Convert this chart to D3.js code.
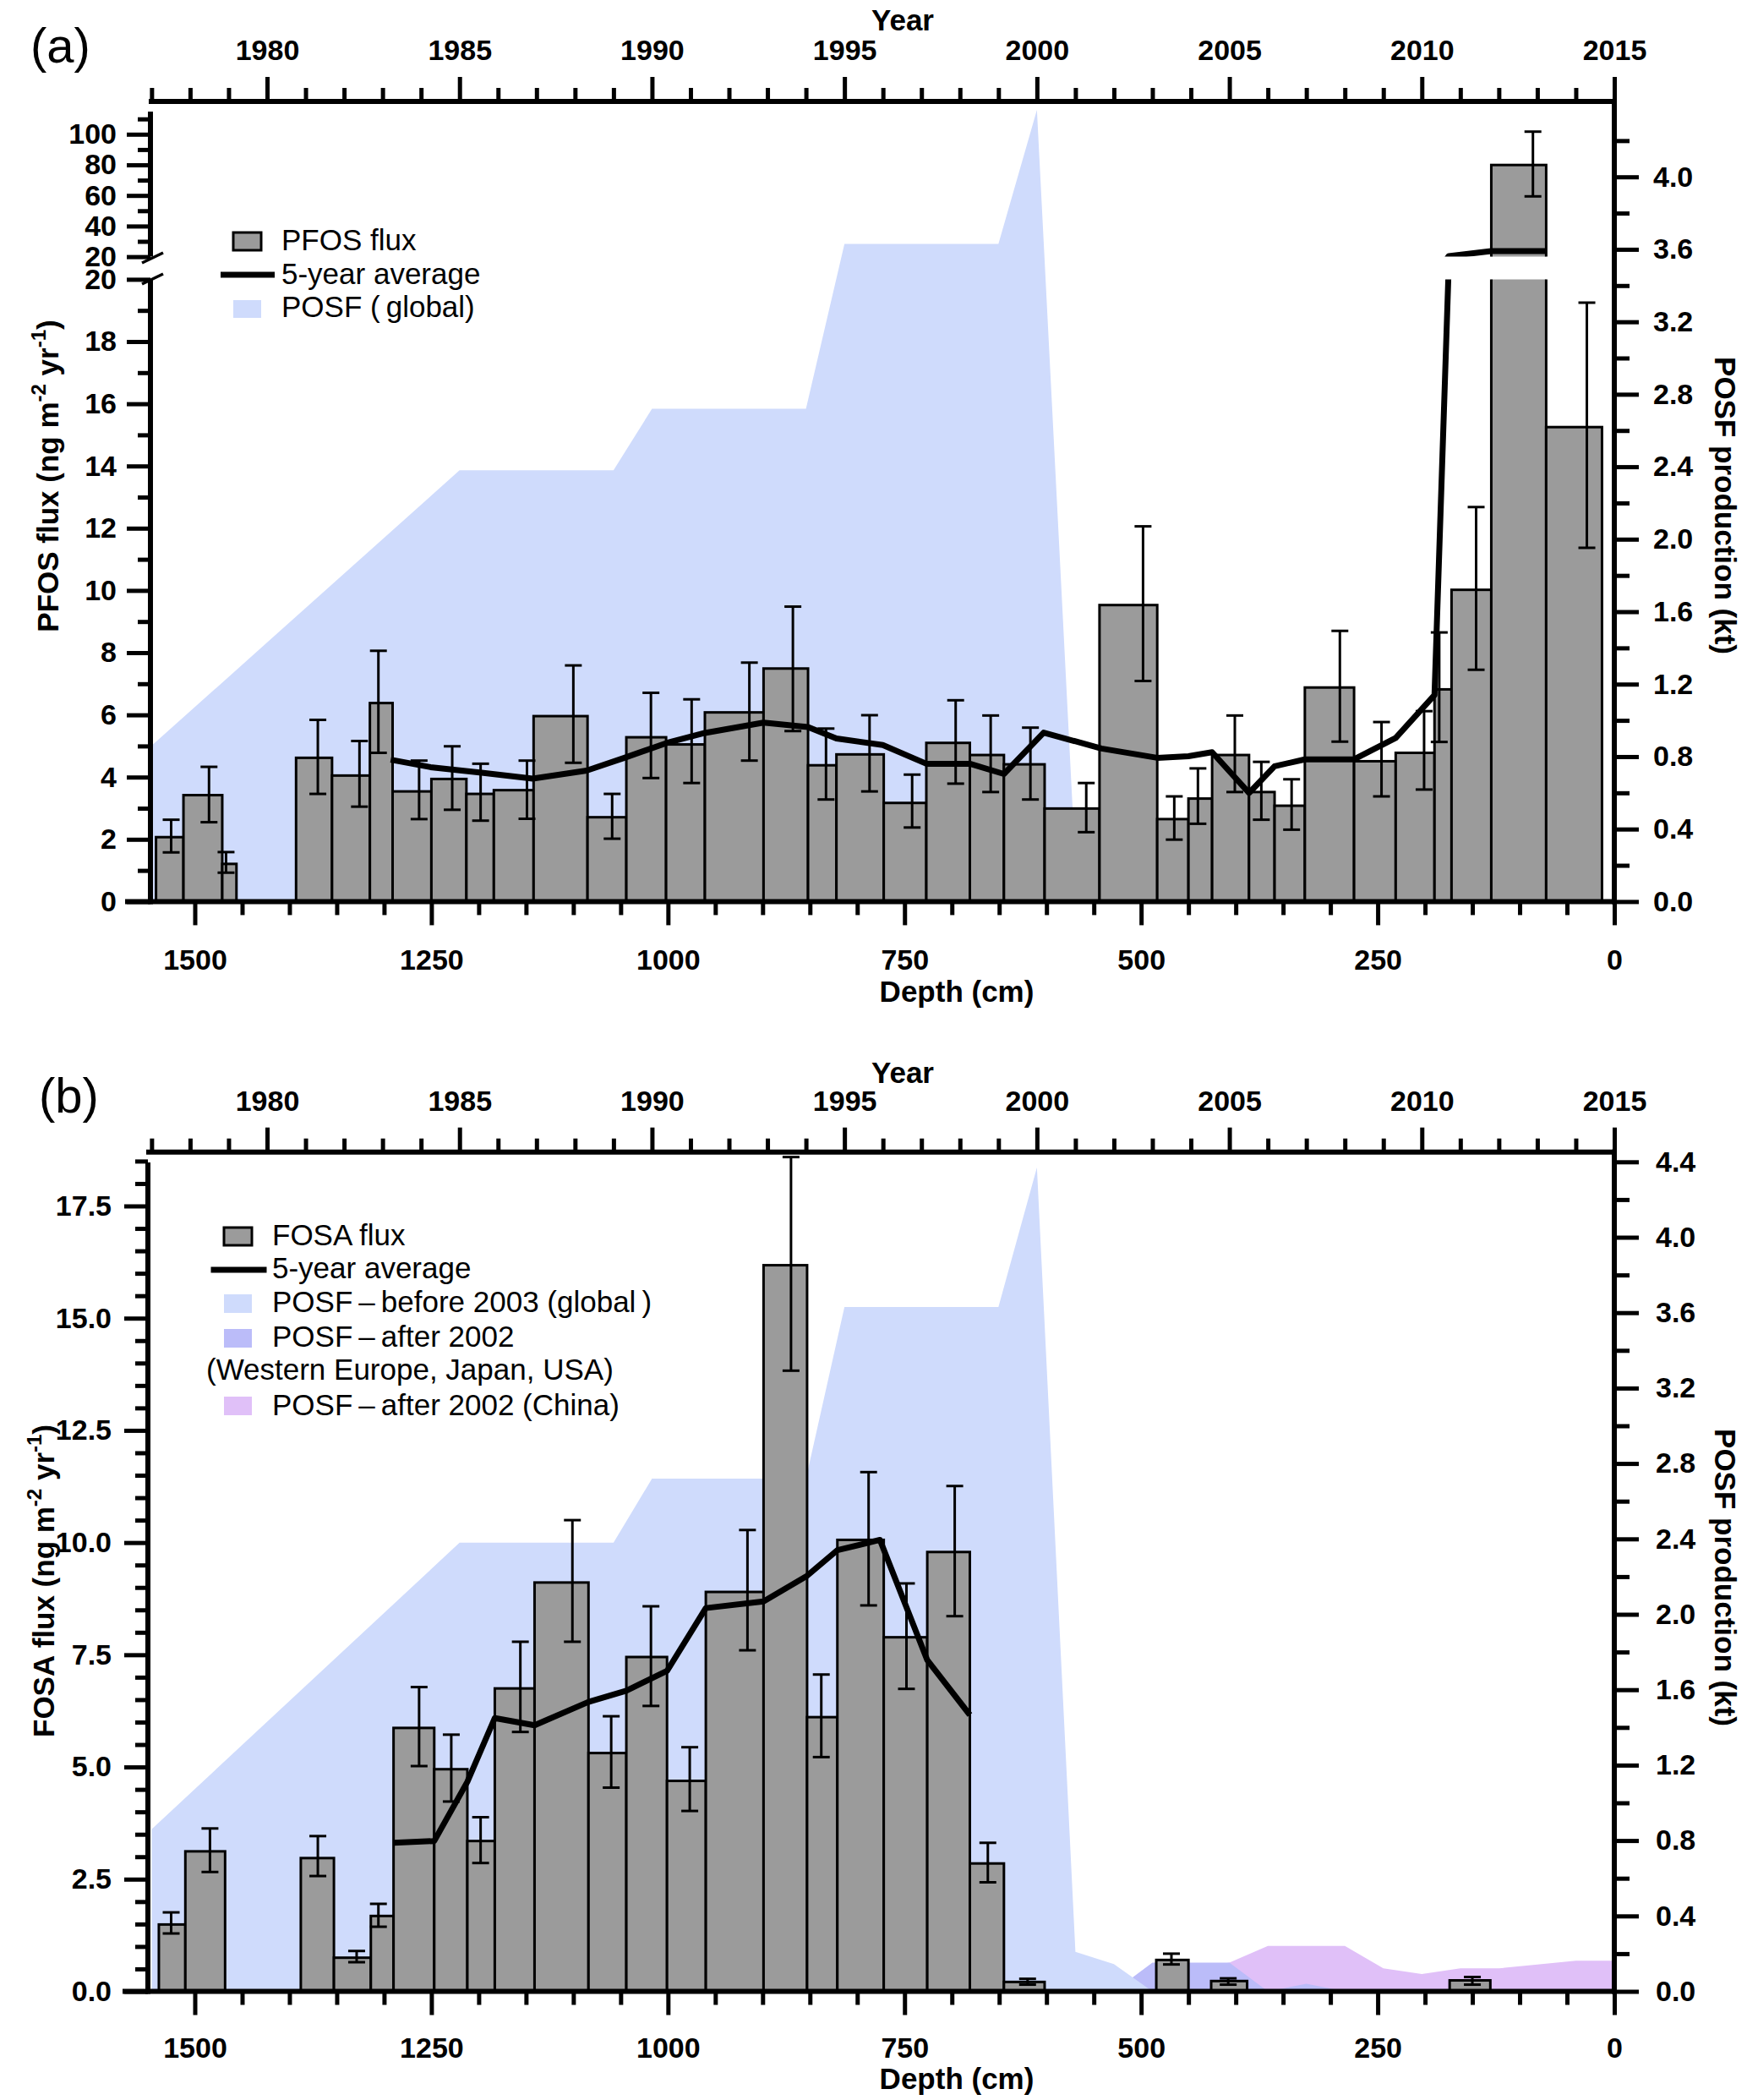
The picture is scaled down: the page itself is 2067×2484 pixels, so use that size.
<!DOCTYPE html>
<html>
<head>
<meta charset="utf-8">
<script src="https://cdn.jsdelivr.net/npm/d3@7"></script>
<style>
  body { margin: 0; background: #fff; }
  text { font-family: 'Liberation Sans', Arial, Helvetica, sans-serif; }
</style>
</head>
<body>
<div id="chart"></div>
<script>
/* global d3 */

// ---- panel (a): PFOS ----
const pfosFrom = [1541, 1512, 1471, 1393, 1355, 1315, 1291, 1250, 1213, 1184, 1142, 1085, 1044, 1002, 961, 899, 852, 822, 772, 727, 681, 645, 602, 544, 483, 450, 425, 386, 359, 327, 275, 231, 190, 172, 130, 72]
const pfosTo = [1512, 1471, 1456, 1355, 1315, 1291, 1250, 1213, 1184, 1142, 1085, 1044, 1002, 961, 899, 852, 822, 772, 727, 681, 645, 602, 544, 483, 450, 425, 386, 359, 327, 275, 231, 190, 172, 130, 72, 13]
const pfosFlux = [2.07, 3.42, 1.21, 4.62, 4.05, 6.38, 3.54, 3.94, 3.46, 3.58, 5.96, 2.71, 5.28, 5.05, 6.08, 7.49, 4.38, 4.73, 3.17, 5.10, 4.71, 4.41, 2.99, 9.53, 2.65, 3.31, 4.71, 3.52, 3.08, 6.88, 4.51, 4.78, 6.82, 10.02, 79.9, 15.25]
const pfosLow = [1.58, 2.55, 0.93, 3.46, 3.05, 4.78, 2.65, 2.95, 2.60, 2.66, 4.46, 2.02, 3.97, 3.81, 4.53, 5.48, 3.28, 3.54, 2.38, 3.79, 3.52, 3.28, 2.23, 7.09, 1.99, 2.50, 3.52, 2.63, 2.31, 5.14, 3.38, 3.60, 5.13, 7.45, 59.4, 11.37]
const pfosHigh = [2.63, 4.33, 1.59, 5.84, 5.16, 8.06, 4.53, 4.99, 4.43, 4.53, 7.59, 3.46, 6.71, 6.50, 7.68, 9.48, 5.56, 5.99, 4.08, 6.47, 5.98, 5.59, 3.81, 12.06, 3.38, 4.28, 5.98, 4.49, 3.93, 8.70, 5.77, 6.12, 8.65, 12.68, 101.7, 19.25]
const pfosErrDepth = [1525, 1485, 1467, 1370, 1326, 1306, 1263, 1228, 1198, 1149, 1100, 1059, 1018, 975, 914, 868, 833, 787, 742, 696, 659, 617, 558, 498, 465, 440, 401, 373, 341, 290, 246, 201, 185, 146, 86, 29]
const pfosAvgDepth = [1293, 1251, 1197, 1143, 1086, 1046, 1001, 961, 899, 852, 822, 773, 727, 681, 645, 603, 542, 483, 450, 425, 386, 359, 327, 275, 231, 190, 175, 130, 72]
const pfosAvg = [4.56, 4.32, 4.14, 3.95, 4.21, 4.62, 5.10, 5.42, 5.75, 5.61, 5.24, 5.03, 4.43, 4.43, 4.10, 5.43, 4.92, 4.62, 4.67, 4.80, 3.49, 4.35, 4.57, 4.57, 5.26, 6.64, 20.4, 23.6, 23.7]

// ---- panel (b): FOSA ----
const fosaFrom = [1538, 1510, 1388, 1353, 1314, 1290, 1247, 1212, 1183, 1141, 1084, 1044, 1001, 960, 899, 853, 821, 772, 726, 681, 645, 484, 426, 174]
const fosaTo = [1510, 1468, 1353, 1314, 1290, 1247, 1212, 1183, 1141, 1084, 1044, 1001, 960, 899, 853, 821, 772, 726, 681, 645, 602, 450, 388, 131]
const fosaFlux = [1.49, 3.12, 2.97, 0.75, 1.68, 5.87, 4.95, 3.35, 6.75, 9.11, 5.31, 7.45, 4.69, 8.90, 16.18, 6.11, 10.06, 7.89, 9.79, 2.85, 0.21, 0.70, 0.23, 0.245]
const fosaLow = [1.29, 2.66, 2.57, 0.65, 1.44, 5.02, 4.23, 2.86, 5.78, 7.79, 4.54, 6.36, 4.02, 7.60, 13.83, 5.22, 8.60, 6.74, 8.36, 2.43, 0.15, 0.60, 0.15, 0.15]
const fosaHigh = [1.76, 3.63, 3.46, 0.90, 1.95, 6.78, 5.72, 3.88, 7.79, 10.5, 6.13, 8.58, 5.44, 10.28, 18.59, 7.06, 11.57, 9.09, 11.26, 3.31, 0.28, 0.84, 0.29, 0.32]
const fosaErrDepth = [1525, 1484, 1370, 1329, 1306, 1263, 1229, 1198, 1156, 1101, 1060, 1018, 977, 916, 870, 838, 788, 748, 697, 662, 620, 468, 408, 150]
const fosaAvgDepth = [1290, 1247, 1212, 1183, 1141, 1084, 1044, 1001, 960, 899, 853, 821, 776, 726, 681]
const fosaAvg = [3.31, 3.35, 4.67, 6.09, 5.93, 6.45, 6.70, 7.14, 8.54, 8.69, 9.26, 9.83, 10.06, 7.38, 6.16]

// ---- POSF production (kt) by year ----
const globalYears = [1977, 1985, 1989, 1990, 1994, 1995, 1999, 2000, 2001, 2002, 2003]
const globalPosf = [0.86, 2.38, 2.38, 2.72, 2.72, 3.63, 3.63, 4.37, 0.21, 0.145, 0]
const westYears = [2002, 2003, 2004, 2005, 2006, 2007, 2008]
const westPosf = [0, 0.152, 0.152, 0.152, 0, 0.04, 0]
const chinaYears = [2003, 2004, 2005, 2006, 2007, 2008, 2009, 2010, 2011, 2012, 2013, 2014, 2015]
const chinaPosf = [0.08, 0.12, 0.152, 0.241, 0.241, 0.241, 0.122, 0.092, 0.122, 0.122, 0.142, 0.162, 0.162]

// ---- ticks ----
const depthMajor = [0, 250, 500, 750, 1000, 1250, 1500]
const depthMinor = d3.range(50, 1500, 50).filter(d => d % 250)
const yearMajor = [1980, 1985, 1990, 1995, 2000, 2005, 2010, 2015]
const yearMinor = d3.range(1977, 2015).filter(d => d % 5)
const pfosLowMajor = [0, 2, 4, 6, 8, 10, 12, 14, 16, 18, 20]
const pfosLowMinor = [1, 3, 5, 7, 9, 11, 13, 15, 17, 19]
const pfosUpMajor = [20, 40, 60, 80, 100]
const pfosUpMinor = [30, 50, 70, 90, 110]
const fosaMajor = [0, 2.5, 5, 7.5, 10, 12.5, 15, 17.5]
const fosaMinor = [0.5, 1, 1.5, 2, 3, 3.5, 4, 4.5, 5.5, 6, 6.5, 7, 8, 8.5, 9, 9.5, 10.5, 11, 11.5, 12, 13, 13.5, 14, 14.5, 15.5, 16, 16.5, 17, 18, 18.5]
const posfMajorA = [0, 0.4, 0.8, 1.2, 1.6, 2.0, 2.4, 2.8, 3.2, 3.6, 4.0]
const posfMinorA = [0.2, 0.6, 1.0, 1.4, 1.8, 2.2, 2.6, 3.0, 3.4, 3.8, 4.2]
const posfMajorB = [0, 0.4, 0.8, 1.2, 1.6, 2.0, 2.4, 2.8, 3.2, 3.6, 4.0, 4.4]
const posfMinorB = [0.2, 0.6, 1.0, 1.4, 1.8, 2.2, 2.6, 3.0, 3.4, 3.8, 4.2]

const legendA = ['PFOS flux', '5-year average', 'POSF (\u2009global)']
const legendB = ['FOSA flux', '5-year average', 'POSF\u2009\u2013\u2009before 2003 (global\u2009)', 'POSF\u2009\u2013\u2009after 2002', '(Western Europe, Japan, USA)', 'POSF\u2009\u2013\u2009after 2002 (China)']

const width = 2067, height = 2484
const barFill = '#9b9b9b', globalFill = '#cfdbfc', westFill = '#bbbcf9', chinaFill = '#e0c0f8'
const tickFont = 34, titleFont = 35

const svg = d3.select('#chart')
  .append('svg')
  .attr('width', width)
  .attr('height', height)

const depthX = d3.scaleLinear().domain([1500, 0]).range([230.5, 1910])
const yearX = d3.scaleLinear().domain([1980, 2015]).range([316, 1910])

// panel (a) scales: broken left axis
const yLowA = d3.scaleLinear().domain([0, 20]).range([1066.4, 330.4])
const yUpA = d3.scaleLinear().domain([20, 114.8]).range([303.6, 132])
const posfA = d3.scaleLinear().domain([0, 4.4]).range([1066.4, 1066.4 - 4.4 * 214.3])
// panel (b) scales
const yB = d3.scaleLinear().domain([0, 18.47]).range([2355.5, 1375])
const posfB = d3.scaleLinear().domain([0, 4.4]).range([2355.5, 2355.5 - 4.4 * 223])

const defs = svg.append('defs')
defs.append('clipPath').attr('id', 'clipLowA')
  .append('rect').attr('x', 0).attr('y', 330.4).attr('width', width).attr('height', 745)
defs.append('clipPath').attr('id', 'clipUpA')
  .append('rect').attr('x', 0).attr('y', 0).attr('width', width).attr('height', 303.6)

const area = (years, vals, yScale, fill) => {
  const pts = years.map((y, i) => [y, vals[i]])
  svg.append('path')
    .datum(pts)
    .attr('fill', fill)
    .attr('d', d3.area().x(d => yearX(d[0])).y0(yScale(0)).y1(d => yScale(d[1])))
}

const bars = (g, from, to, vals, yScale, keep) => {
  const data = from.map((f, i) => ({ f, t: to[i], v: vals[i] })).filter(keep)
  g.selectAll(null)
    .data(data)
    .enter()
    .append('rect')
    .attr('x', d => depthX(d.f))
    .attr('width', d => depthX(d.t) - depthX(d.f))
    .attr('y', d => yScale(d.v))
    .attr('height', d => yScale(yScale.domain()[0]) - yScale(d.v) + (yScale.domain()[0] > 0 ? 40 : 0))
    .attr('fill', barFill)
    .attr('stroke', '#000')
    .attr('stroke-width', 3)
}

const errors = (g, depth, low, high, yScale, keep) => {
  const data = depth.map((d, i) => ({ d, lo: low[i], hi: high[i] })).filter(keep)
  const e = g.selectAll(null).data(data).enter().append('g')
    .attr('stroke', '#000').attr('stroke-width', 3)
  e.append('line')
    .attr('x1', d => depthX(d.d)).attr('x2', d => depthX(d.d))
    .attr('y1', d => yScale(d.lo)).attr('y2', d => yScale(d.hi))
  e.append('line')
    .attr('x1', d => depthX(d.d) - 10).attr('x2', d => depthX(d.d) + 10)
    .attr('y1', d => yScale(d.lo)).attr('y2', d => yScale(d.lo))
  e.append('line')
    .attr('x1', d => depthX(d.d) - 10).attr('x2', d => depthX(d.d) + 10)
    .attr('y1', d => yScale(d.hi)).attr('y2', d => yScale(d.hi))
}

const avgLine = (g, depth, vals, yScale) => {
  g.append('path')
    .datum(depth.map((d, i) => [d, vals[i]]))
    .attr('fill', 'none')
    .attr('stroke', '#000')
    .attr('stroke-width', 7)
    .attr('stroke-linejoin', 'round')
    .attr('d', d3.line().x(d => depthX(d[0])).y(d => yScale(d[1])))
}

const styleAxis = (g) => {
  g.select('.domain').remove()
  g.selectAll('.tick line').attr('stroke', '#000').attr('stroke-width', 5)
  g.selectAll('.tick text')
    .attr('fill', '#000')
    .attr('font-size', tickFont)
    .attr('font-weight', 'bold')
    .attr('font-family', "'Liberation Sans', Arial, sans-serif")
}

const addAxis = (axis, tx, ty) => svg.append('g')
  .attr('transform', `translate(${tx},${ty})`)
  .call(axis)
  .call(styleAxis)

const hline = (x1, x2, y) => svg.append('line').attr('x1', x1).attr('x2', x2).attr('y1', y).attr('y2', y)
  .attr('stroke', '#000').attr('stroke-width', 6)
const vline = (x, y1, y2) => svg.append('line').attr('x1', x).attr('x2', x).attr('y1', y1).attr('y2', y2)
  .attr('stroke', '#000').attr('stroke-width', 6)

const text = (x, y, str, size, weight, anchor) => svg.append('text')
  .attr('x', x).attr('y', y)
  .attr('font-size', size)
  .attr('font-weight', weight || 'normal')
  .attr('text-anchor', anchor || 'start')
  .text(str)

const fluxTitle = (x, y, name) => {
  const t = svg.append('text')
    .attr('transform', `translate(${x},${y}) rotate(-90)`)
    .attr('text-anchor', 'middle')
    .attr('font-size', titleFont)
    .attr('font-weight', 'bold')
  t.append('tspan').text(name + ' flux (ng m')
  t.append('tspan').attr('font-size', 24).attr('dy', -15).text('-2')
  t.append('tspan').attr('dy', 15).text(' yr')
  t.append('tspan').attr('font-size', 24).attr('dy', -15).text('-1')
  t.append('tspan').attr('dy', 15).text(')')
}

const posfTitle = (x, y) => svg.append('text')
  .attr('transform', `translate(${x},${y}) rotate(90)`)
  .attr('text-anchor', 'middle')
  .attr('font-size', titleFont)
  .attr('font-weight', 'bold')
  .text('POSF production (kt)')

// ================= panel (a) =================
area(globalYears, globalPosf, posfA, globalFill)

const lowA = svg.append('g').attr('clip-path', 'url(#clipLowA)')
bars(lowA, pfosFrom, pfosTo, pfosFlux, yLowA, () => true)
errors(lowA, pfosErrDepth, pfosLow, pfosHigh, yLowA, d => d.hi <= 20)
avgLine(lowA, pfosAvgDepth, pfosAvg, yLowA)

const upA = svg.append('g').attr('clip-path', 'url(#clipUpA)')
bars(upA, pfosFrom, pfosTo, pfosFlux, yUpA, d => d.v > 20)
errors(upA, pfosErrDepth, pfosLow, pfosHigh, yUpA, d => d.lo > 20)
avgLine(upA, pfosAvgDepth, pfosAvg, yUpA)

addAxis(d3.axisBottom(depthX).tickValues(depthMinor).tickSize(16).tickFormat(''), 0, 1066.4)
addAxis(d3.axisBottom(depthX).tickValues(depthMajor).tickSize(28).tickPadding(28).tickFormat(d3.format('d')), 0, 1066.4)
addAxis(d3.axisTop(yearX).tickValues(yearMinor).tickSize(16).tickFormat(''), 0, 120)
addAxis(d3.axisTop(yearX).tickValues(yearMajor).tickSize(29).tickPadding(20).tickFormat(d3.format('d')), 0, 120)
addAxis(d3.axisLeft(yLowA).tickValues(pfosLowMinor).tickSize(15).tickFormat(''), 178, 0)
addAxis(d3.axisLeft(yLowA).tickValues(pfosLowMajor).tickSize(28).tickPadding(12).tickFormat(d3.format('d')), 178, 0)
addAxis(d3.axisLeft(yUpA).tickValues(pfosUpMinor).tickSize(15).tickFormat(''), 178, 0)
addAxis(d3.axisLeft(yUpA).tickValues(pfosUpMajor).tickSize(28).tickPadding(12).tickFormat(d3.format('d')), 178, 0)
addAxis(d3.axisRight(posfA).tickValues(posfMinorA).tickSize(18).tickFormat(''), 1910, 0)
addAxis(d3.axisRight(posfA).tickValues(posfMajorA).tickSize(29).tickPadding(17).tickFormat(d3.format('.1f')), 1910, 0)

hline(148, 1913, 1066.4)
hline(176, 1913, 120)
vline(178, 330.4, 1069.4)
vline(178, 132, 303.6)
vline(1910, 117, 1069.4)
// axis break marks
svg.append('g').attr('stroke', '#000').attr('stroke-width', 3.5).attr('fill', 'none')
  .selectAll(null).data([311, 336]).enter().append('line')
  .attr('x1', 168).attr('x2', 193)
  .attr('y1', d => d).attr('y2', d => d - 12)

text(36, 74, '(a)', 58)
text(1068, 36, 'Year', titleFont, 'bold', 'middle')
text(1132, 1185, 'Depth (cm)', titleFont, 'bold', 'middle')
fluxTitle(69, 563, 'PFOS')
posfTitle(2029, 598)

// legend (a)
svg.append('rect').attr('x', 276).attr('y', 275).attr('width', 33).attr('height', 21)
  .attr('fill', barFill).attr('stroke', '#000').attr('stroke-width', 3)
hline(261, 325, 325).attr('stroke-width', 7)
svg.append('rect').attr('x', 276).attr('y', 355).attr('width', 33).attr('height', 21).attr('fill', globalFill)
legendA.forEach((s, i) => text(333, 296 + i * 39.5, s, 35))

// ================= panel (b) =================
area(chinaYears, chinaPosf, posfB, chinaFill)
area(westYears, westPosf, posfB, westFill)
area(globalYears, globalPosf, posfB, globalFill)

const gB = svg.append('g')
bars(gB, fosaFrom, fosaTo, fosaFlux, yB, () => true)
errors(gB, fosaErrDepth, fosaLow, fosaHigh, yB, () => true)
avgLine(gB, fosaAvgDepth, fosaAvg, yB)

addAxis(d3.axisBottom(depthX).tickValues(depthMinor).tickSize(16).tickFormat(''), 0, 2355.5)
addAxis(d3.axisBottom(depthX).tickValues(depthMajor).tickSize(28).tickPadding(26).tickFormat(d3.format('d')), 0, 2355.5)
addAxis(d3.axisTop(yearX).tickValues(yearMinor).tickSize(16).tickFormat(''), 0, 1362.7)
addAxis(d3.axisTop(yearX).tickValues(yearMajor).tickSize(29).tickPadding(20).tickFormat(d3.format('d')), 0, 1362.7)
addAxis(d3.axisLeft(yB).tickValues(fosaMinor).tickSize(15).tickFormat(''), 175, 0)
addAxis(d3.axisLeft(yB).tickValues(fosaMajor).tickSize(28).tickPadding(15).tickFormat(d3.format('.1f')), 175, 0)
addAxis(d3.axisRight(posfB).tickValues(posfMinorB).tickSize(18).tickFormat(''), 1910, 0)
addAxis(d3.axisRight(posfB).tickValues(posfMajorB).tickSize(29).tickPadding(20).tickFormat(d3.format('.1f')), 1910, 0)

hline(145, 1913, 2355.5)
hline(173, 1913, 1362.7)
vline(175, 1375, 2358.5)
vline(1910, 1359.7, 2358.5)

text(46, 1316, '(b)', 58)
text(1068, 1281, 'Year', titleFont, 'bold', 'middle')
text(1132, 2471, 'Depth (cm)', titleFont, 'bold', 'middle')
fluxTitle(64, 1870, 'FOSA')
posfTitle(2029, 1866)

// legend (b)
svg.append('rect').attr('x', 265).attr('y', 1452).attr('width', 33).attr('height', 21)
  .attr('fill', barFill).attr('stroke', '#000').attr('stroke-width', 3)
hline(249.5, 315.5, 1502).attr('stroke-width', 7)
const boxFills = [globalFill, westFill, chinaFill]
;[1531, 1572, 1652].forEach((y, i) => {
  svg.append('rect').attr('x', 265).attr('y', y).attr('width', 33).attr('height', 22).attr('fill', boxFills[i])
})
const legBase = [1473, 1512, 1552, 1593, 1632, 1674]
legendB.forEach((s, i) => text(i === 4 ? 244 : 322, legBase[i], s, 35))
</script>
</body>
</html>
